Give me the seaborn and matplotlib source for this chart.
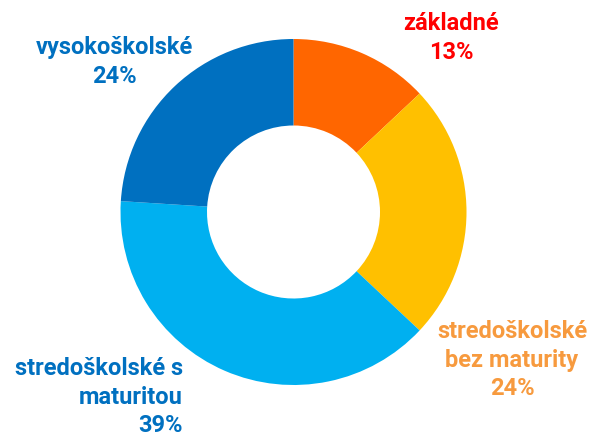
import matplotlib
matplotlib.use("Agg")
import matplotlib.pyplot as plt
import seaborn as sns

categories = ["základné", "stredoškolské bez maturity", "stredoškolské s maturitou", "vysokoškolské"]
values = [13, 24, 39, 24]
label_texts = ["základné\n13%", "stredoškolské\nbez maturity\n24%", "stredoškolské s\nmaturitou\n39%", "vysokoškolské\n24%"]

wedge_colors = sns.color_palette(["#FF6600", "#FFC000", "#00B0F0", "#0070C0"])
label_colors = ["#FF0000", "#F79A3E", "#0070C0", "#0070C0"]

sns.set_theme(style="white")
plt.rcParams['font.family'] = ['Roboto', 'DejaVu Sans']

W, H = 589, 438
fig = plt.figure(figsize=(W / 100, H / 100), dpi=100)
ax = fig.add_axes([0, 0, 1, 1])
ax.set_xlim(0, W)
ax.set_ylim(0, H)
ax.set_aspect('equal')
ax.axis('off')

cx, cy, r = 293.5, H - 212, 173
ax.pie(values, colors=wedge_colors, startangle=90, counterclock=False,
       center=(cx, cy), radius=r, wedgeprops=dict(width=r * 0.5, linewidth=0))
ax.set_xlim(0, W)
ax.set_ylim(0, H)

# label positions (x, y in pixels from top) and alignment
pos = [(451, 38, 'center'), (512, 360, 'center'), (183, 397, 'right'), (114, 62, 'center')]
for txt, col, (x, y, ha) in zip(label_texts, label_colors, pos):
    ax.text(x, H - y, txt, color=col, fontsize=17, fontweight='bold',
            ha=ha, va='center', linespacing=1.3, multialignment=ha)

fig.savefig("out.png", dpi=100)
